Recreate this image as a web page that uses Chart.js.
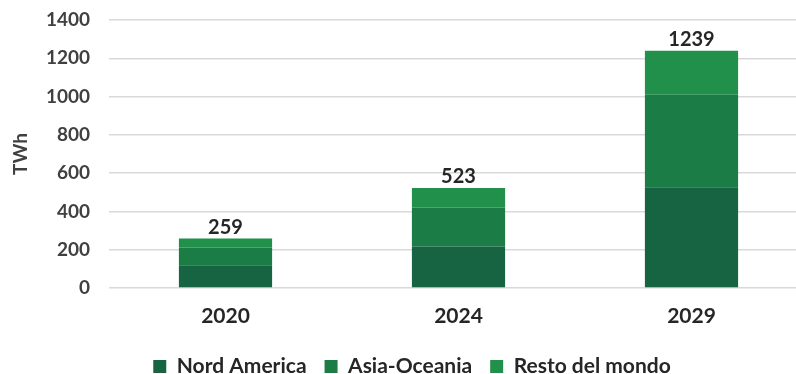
<!DOCTYPE html>
<html>
<head>
<meta charset="utf-8">
<script src="https://cdn.jsdelivr.net/npm/chart.js@4.4.1/dist/chart.umd.min.js"></script>
<style>
  html, body { margin: 0; padding: 0; background: #fff; overflow: hidden; }
  #wrap { width: 808px; height: 374px; position: relative; }
</style>
</head>
<body>
<div id="wrap"><canvas id="energyChart"></canvas></div>
<script>
const years = ['2020', '2024', '2029'];
const nordAmerica = [119, 217, 526];
const asiaOceania = [92, 204, 484];
const restoMondo = [48, 102, 229];
const totals = [259, 523, 1239];
const yTicks = [0, 200, 400, 600, 800, 1000, 1200, 1400];

const FONT = 'Lato, "Open Sans", sans-serif';

// draws the total value above every stacked bar
const totalLabels = {
    id: 'totalLabels',
    afterDatasetsDraw(chart) {
        const ctx = chart.ctx;
        const topMeta = chart.getDatasetMeta(chart.data.datasets.length - 1);
        ctx.save();
        ctx.font = 'bold 20px ' + FONT;
        ctx.fillStyle = '#262626';
        ctx.textAlign = 'center';
        ctx.textBaseline = 'bottom';
        topMeta.data.forEach((bar, i) => {
            ctx.fillText(totals[i], bar.x, bar.y - 1);
        });
        ctx.restore();
    }
};

const ctx = document.getElementById('energyChart').getContext('2d');
new Chart(ctx, {
    type: 'bar',
    data: {
        labels: years,
        datasets: [
            { label: 'Nord America', data: nordAmerica, backgroundColor: '#176442' },
            { label: 'Asia-Oceania', data: asiaOceania, backgroundColor: '#1b7d45' },
            { label: 'Resto del mondo', data: restoMondo, backgroundColor: '#21904a' }
        ]
    },
    options: {
        responsive: true,
        maintainAspectRatio: false,
        animation: false,
        layout: { padding: { top: 0, bottom: -13, left: 16, right: 0 } },
        datasets: {
            bar: { categoryPercentage: 1, barPercentage: 0.4 }
        },
        scales: {
            x: {
                stacked: true,
                grid: { display: false },
                border: { display: false },
                afterFit: scale => { scale.height = 50; },
                ticks: {
                    color: '#262626',
                    padding: 8,
                    font: { family: FONT, size: 21, weight: 'bold' }
                }
            },
            y: {
                stacked: true,
                min: 0,
                max: 1400,
                afterBuildTicks: scale => {
                    scale.ticks = yTicks.map(v => ({ value: v }));
                },
                afterFit: scale => {
                    scale.width = 93;
                    scale.paddingTop = 20;
                    scale.paddingBottom = 0;
                },
                grid: { color: '#d9d9d9', lineWidth: 1.5, drawTicks: false },
                border: { display: false },
                ticks: {
                    color: '#404040',
                    padding: 19,
                    callback: v => String(v),
                    font: { family: FONT, size: 19, weight: 'bold' }
                },
                title: {
                    display: true,
                    text: 'TWh',
                    color: '#404040',
                    padding: { top: -7, bottom: 0 },
                    font: { family: FONT, size: 19, weight: 'bold' }
                }
            }
        },
        plugins: {
            legend: {
                position: 'bottom',
                labels: {
                    boxWidth: 13,
                    boxHeight: 13,
                    padding: 18,
                    color: '#262626',
                    font: { family: FONT, size: 21, weight: 'bold' }
                }
            },
            tooltip: { enabled: false }
        }
    },
    plugins: [totalLabels]
});
</script>
</body>
</html>
